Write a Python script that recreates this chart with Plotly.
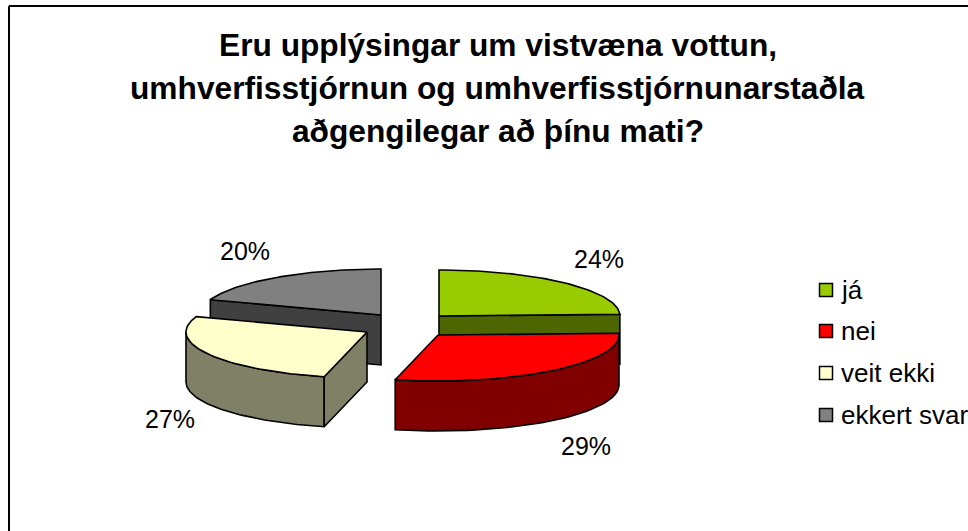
import numpy as np
import plotly.graph_objects as go

categories = ["já", "nei", "veit ekki", "ekkert svar"]
values = [24.4, 29.4, 26.6, 19.6]
title_lines = [
    "Eru upplýsingar um vistvæna vottun,",
    "umhverfisstjórnun og umhverfisstjórnunarstaðla",
    "aðgengilegar að þínu mati?",
]

# styling / layout (not data)
W, H = 968, 531
top_colors = ["#99CC00", "#FF0000", "#FFFFCC", "#808080"]
side_colors = ["#4D6600", "#800000", "#808066", "#404040"]
apex = [(439, 316), (438, 335), (367, 332), (381, 315)]
RX, RY, DEPTH = 181, 46, 50
label_pos = [(599, 259), (586, 446), (170, 419), (245, 251)]
legend_x, legend_y = 826, [290, 331, 373, 415]
title_y = [45, 88, 131]
FONT = "Liberation Sans, Arial, sans-serif"
LW = 1.6

edges = np.cumsum([0] + values) / sum(values) * 2 * np.pi


def pt(c, t, dz=0):
    return c[0] + RX * np.sin(t), c[1] - RY * np.cos(t) + dz


def arc(c, a, b, dz=0):
    t = np.linspace(a, b, 60)
    return pt(c, t, dz)


fig = go.Figure()


def poly(xs, ys, color):
    fig.add_trace(go.Scatter(
        x=list(xs) + [xs[0]], y=list(ys) + [ys[0]], mode="lines", fill="toself",
        fillcolor=color, line=dict(color="black", width=LW), hoverinfo="skip",
        showlegend=False))


def top(i):
    c = apex[i]
    ax, ay = arc(c, edges[i], edges[i + 1])
    poly([c[0], *ax], [c[1], *ay], top_colors[i])


def cut_face(i, t):
    c = apex[i]
    px, py = pt(c, t)
    poly([c[0], px, px, c[0]], [c[1], py, py + DEPTH, c[1] + DEPTH], side_colors[i])


def outer(i, a, b):
    c = apex[i]
    ax, ay = arc(c, a, b)
    bx, by = arc(c, a, b, DEPTH)
    poly([*ax, *bx[::-1]], [*ay, *by[::-1]], side_colors[i])


# grey slice (back left)
cut_face(3, edges[3])
top(3)
# green slice (back right)
cut_face(0, edges[1])
top(0)
# yellow slice (front left)
outer(2, edges[2], 1.5 * np.pi)
cut_face(2, edges[2])
top(2)
# red slice (front right)
outer(1, np.pi / 2, edges[2])
top(1)

# legend
fig.add_trace(go.Scatter(
    x=[legend_x] * 4, y=legend_y, mode="markers", hoverinfo="skip", showlegend=False,
    marker=dict(symbol="square", size=13, color=top_colors, line=dict(color="black", width=1.5))))
for name, y in zip(categories, legend_y):
    fig.add_annotation(x=839, y=y, text=name, showarrow=False, xanchor="left", yanchor="middle",
                       font=dict(family=FONT, size=26, color="black"))

for v, (x, y) in zip(values, label_pos):
    fig.add_annotation(x=x, y=y, text=f"{v / sum(values) * 100:.0f}%", showarrow=False,
                       font=dict(family=FONT, size=25, color="black"))

for line, y in zip(title_lines, title_y):
    fig.add_annotation(x=497.5, y=y, text=line, showarrow=False,
                       font=dict(family=FONT, size=31.7, color="black", weight="bold"))

# chart frame (only left and top edges fall inside the picture)
fig.add_shape(type="line", x0=9, x1=W, y0=6, y1=6, line=dict(color="black", width=2))
fig.add_shape(type="line", x0=9, x1=9, y0=6, y1=H, line=dict(color="black", width=2))

fig.update_layout(
    width=W, height=H, margin=dict(l=0, r=0, t=0, b=0), autosize=False,
    paper_bgcolor="white", plot_bgcolor="white", showlegend=False,
    xaxis=dict(range=[0, W], visible=False, fixedrange=True),
    yaxis=dict(range=[H, 0], visible=False, fixedrange=True),
)
fig.write_html("out.html", post_script="document.body.style.margin='0';document.body.style.overflow='hidden';",
               config={"displayModeBar": False})
